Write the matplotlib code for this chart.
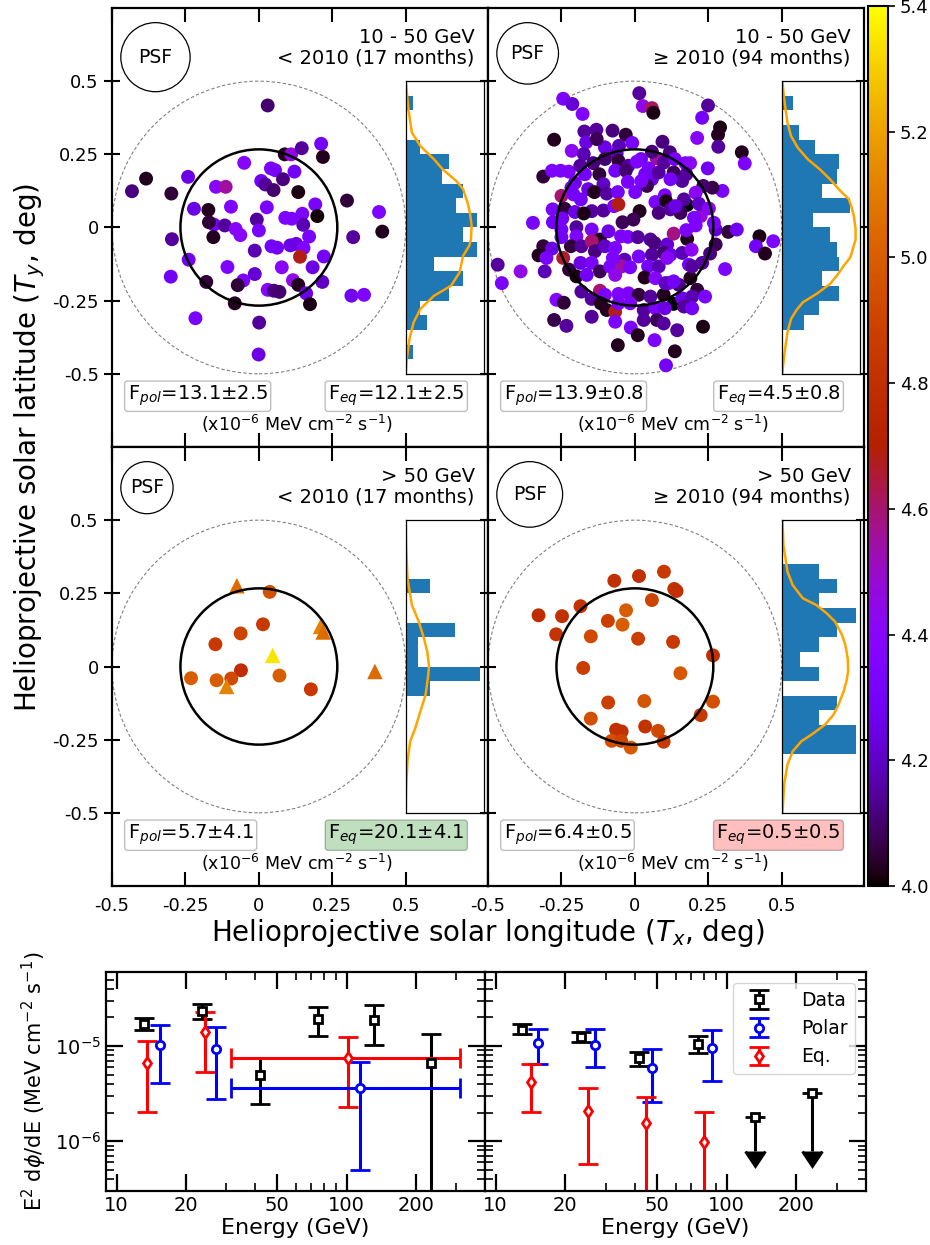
import numpy as np
import matplotlib.pyplot as plt
from matplotlib.patches import Circle
from matplotlib.colors import Normalize
from matplotlib.cm import ScalarMappable
from matplotlib.ticker import FixedLocator, NullFormatter, LogLocator

# ---------------- photon maps: Tx, Ty (deg) and log10(E/MeV) ----------------
tl_x = [0.030, -0.384, -0.432, -0.298, -0.241, -0.221, -0.172, -0.153, -0.170, -0.116,
        -0.155, -0.146, -0.113, -0.095, -0.050, 0.008, 0.022, 0.041, 0.055, 0.082,
        0.050, 0.088, 0.110, 0.121, 0.146, 0.212, 0.218, 0.134, 0.027, -0.007,
        0.000, -0.079, -0.063, 0.090, 0.112, 0.148, 0.192, 0.199, 0.151, 0.171,
        0.300, 0.409, 0.420, 0.321, -0.296, -0.239, -0.300, -0.179, -0.107, -0.014,
        0.043, 0.062, 0.107, 0.127, 0.152, 0.140, 0.078, 0.183, 0.221, -0.014,
        -0.053, -0.072, 0.116, 0.134, 0.030, 0.051, 0.070, 0.161, 0.216, 0.174,
        -0.082, 0.315, 0.358, -0.216, 0.001, -0.001]
tl_y = [0.417, 0.167, 0.124, 0.116, 0.173, 0.064, 0.060, 0.010, 0.018, 0.007,
        -0.033, 0.139, 0.139, 0.071, 0.221, 0.159, 0.147, 0.202, 0.196, 0.165,
        0.128, 0.250, 0.250, 0.191, 0.271, 0.286, 0.241, 0.121, 0.069, 0.027,
        -0.010, -0.005, -0.026, 0.033, 0.030, 0.047, 0.079, 0.039, 0.009, -0.031,
        0.092, 0.053, -0.014, -0.033, -0.040, -0.110, -0.168, -0.186, -0.135, -0.079,
        -0.064, -0.069, -0.061, -0.056, -0.070, -0.100, -0.136, -0.136, -0.099, -0.159,
        -0.181, -0.197, -0.180, -0.196, -0.213, -0.216, -0.220, -0.225, -0.186, -0.262,
        -0.259, -0.233, -0.230, -0.310, -0.325, -0.434]
tl_c = [4.10, 4.03, 4.12, 4.05, 4.25, 4.25, 4.03, 4.30, 4.05, 4.15,
        4.03, 4.40, 4.55, 4.35, 4.38, 4.30, 4.15, 4.32, 4.32, 4.12,
        4.10, 4.03, 4.45, 4.30, 4.15, 4.30, 4.03, 4.02, 4.33, 4.15,
        4.32, 4.40, 4.40, 4.35, 4.33, 4.33, 4.32, 4.01, 4.18, 4.32,
        4.05, 4.35, 4.03, 4.15, 4.15, 4.28, 4.28, 4.05, 4.35, 4.18,
        4.30, 4.30, 4.25, 4.25, 4.35, 4.68, 4.40, 4.25, 4.30, 4.22,
        4.33, 4.05, 4.45, 4.03, 4.40, 4.12, 4.10, 4.25, 4.20, 4.02,
        4.03, 4.28, 4.35, 4.32, 4.15, 4.25]

tr_x = [0.015, -0.244, -0.213, 0.027, 0.058, 0.063, 0.249, -0.178, 0.229, 0.290,
        0.283, 0.212, -0.275, -0.172, -0.131, -0.076, -0.031, -0.009, -0.102, -0.054,
        0.094, -0.166, 0.284, 0.364, 0.374, -0.215, -0.174, -0.062, 0.021, 0.074,
        0.119, 0.172, 0.188, 0.248, -0.312, -0.282, -0.253, -0.225, -0.186, -0.142,
        -0.102, -0.056, -0.022, 0.007, 0.047, 0.099, 0.132, 0.161, -0.121, -0.067,
        -0.031, -0.024, 0.058, 0.035, 0.081, 0.121, -0.204, -0.170, -0.107, -0.159,
        0.298, 0.264, -0.250, -0.209, -0.184, -0.138, -0.096, -0.058, 0.001, 0.041,
        0.102, 0.070, 0.106, 0.178, 0.167, 0.224, -0.280, -0.239, -0.204, -0.147,
        -0.107, -0.071, -0.056, 0.016, -0.005, -0.042, 0.081, 0.121, 0.155, 0.201,
        0.275, 0.318, 0.347, -0.347, -0.279, -0.250, -0.199, -0.147, -0.199, -0.119,
        -0.047, -0.024, 0.010, 0.053, 0.067, 0.110, 0.132, 0.178, 0.175, 0.207,
        0.275, 0.424, 0.471, 0.412, 0.443, -0.312, -0.282, -0.218, -0.182, -0.147,
        -0.136, -0.102, -0.067, -0.035, 0.013, 0.058, 0.098, 0.121, 0.161, 0.193,
        0.256, -0.244, -0.328, -0.301, -0.467, -0.453, -0.389, -0.307, -0.224, -0.185,
        -0.147, -0.119, -0.084, -0.045, -0.016, 0.045, 0.081, 0.110, 0.184, 0.229,
        0.307, -0.199, -0.164, -0.067, 0.033, 0.070, 0.115, 0.150, 0.189, 0.212,
        -0.182, -0.119, -0.102, -0.056, -0.022, 0.013, 0.053, 0.098, 0.132, 0.161,
        0.195, 0.239, -0.267, -0.242, -0.147, -0.116, -0.096, -0.067, -0.056, -0.016,
        0.030, 0.070, 0.102, 0.167, 0.195, -0.275, -0.233, -0.147, -0.067, -0.014,
        0.010, 0.075, 0.098, 0.144, 0.232, -0.058, 0.067, 0.136, 0.106, -0.130,
        0.058, 0.136, 0.175, 0.022, 0.233, 0.207, 0.218, 0.138, 0.252, 0.269,
        -0.174, -0.247, -0.250, -0.075, 0.030, -0.216, -0.090, 0.195, 0.104, 0.132]
tr_y = [0.459, 0.440, 0.422, 0.415, 0.408, 0.392, 0.417, 0.388, 0.375, 0.342,
        0.317, 0.306, 0.300, 0.328, 0.334, 0.331, 0.317, 0.289, 0.274, 0.279,
        0.293, 0.291, 0.276, 0.257, 0.219, 0.262, 0.251, 0.253, 0.234, 0.236,
        0.257, 0.220, 0.220, 0.202, 0.174, 0.194, 0.194, 0.191, 0.211, 0.220,
        0.234, 0.228, 0.211, 0.225, 0.202, 0.222, 0.188, 0.159, 0.182, 0.194,
        0.194, 0.156, 0.165, 0.182, 0.188, 0.165, 0.153, 0.182, 0.148, 0.131,
        0.125, 0.136, 0.108, 0.113, 0.096, 0.121, 0.116, 0.121, 0.121, 0.142,
        0.110, 0.087, 0.090, 0.077, 0.096, 0.039, 0.062, 0.064, 0.053, 0.056,
        0.058, 0.073, 0.079, 0.056, 0.027, 0.018, 0.050, 0.062, 0.050, 0.033,
        -0.007, -0.015, -0.007, 0.016, 0.018, -0.007, 0.001, -0.007, -0.030, -0.041,
        -0.030, -0.032, -0.033, -0.041, -0.053, -0.058, -0.021, -0.039, -0.009, 0.007,
        -0.058, -0.030, -0.047, -0.064, -0.089, -0.064, -0.072, -0.064, -0.064, -0.047,
        -0.081, -0.064, -0.070, -0.110, -0.099, -0.093, -0.087, -0.093, -0.087, -0.076,
        -0.089, -0.104, -0.095, -0.104, -0.127, -0.190, -0.150, -0.150, -0.144, -0.121,
        -0.121, -0.150, -0.133, -0.133, -0.136, -0.133, -0.133, -0.104, -0.127, -0.121,
        -0.142, -0.167, -0.162, -0.162, -0.171, -0.173, -0.190, -0.196, -0.173, -0.213,
        -0.219, -0.216, -0.230, -0.227, -0.225, -0.230, -0.236, -0.230, -0.261, -0.242,
        -0.236, -0.236, -0.247, -0.257, -0.244, -0.259, -0.282, -0.288, -0.259, -0.259,
        -0.282, -0.276, -0.276, -0.270, -0.276, -0.316, -0.336, -0.305, -0.322, -0.342,
        -0.368, -0.316, -0.328, -0.351, -0.339, -0.402, -0.385, -0.423, -0.471, 0.302,
        0.259, 0.234, 0.182, 0.159, 0.142, 0.119, 0.081, 0.073, 0.065, 0.016,
        0.048, 0.031, -0.033, -0.104, -0.316, 0.136, -0.013, -0.133, -0.190, -0.184]
tr_c = [4.15, 4.33, 4.22, 4.45, 4.62, 4.02, 4.15, 4.35, 4.30, 4.02,
        4.03, 4.40, 4.03, 4.15, 4.15, 4.12, 4.05, 4.32, 4.25, 4.18,
        4.12, 4.25, 4.15, 4.03, 4.33, 4.42, 4.18, 4.20, 4.30, 4.55,
        4.12, 4.35, 4.40, 4.28, 4.05, 4.33, 4.33, 4.33, 4.15, 4.12,
        4.10, 4.05, 4.15, 4.35, 4.32, 4.15, 4.08, 4.15, 4.05, 4.30,
        4.10, 4.32, 4.25, 4.30, 4.15, 4.30, 4.25, 4.30, 4.20, 4.25,
        4.33, 4.07, 4.60, 4.32, 4.30, 4.03, 4.15, 4.30, 4.32, 4.08,
        4.33, 4.33, 4.02, 4.00, 4.15, 4.48, 4.32, 4.05, 4.25, 4.15,
        4.15, 4.35, 4.68, 4.03, 4.08, 4.08, 4.12, 4.15, 4.08, 4.33,
        4.22, 4.05, 4.28, 4.32, 4.30, 4.30, 4.15, 4.32, 4.35, 4.03,
        4.32, 4.33, 4.15, 4.15, 4.12, 4.22, 4.58, 4.03, 4.33, 4.35,
        4.08, 4.02, 4.33, 4.30, 4.03, 4.05, 4.25, 4.05, 4.15, 4.60,
        4.12, 4.20, 4.33, 4.18, 4.32, 4.15, 4.10, 4.25, 4.18, 4.42,
        4.12, 4.66, 4.03, 4.32, 4.15, 4.32, 4.45, 4.18, 4.05, 4.25,
        4.32, 4.08, 4.33, 4.55, 4.32, 4.30, 4.18, 4.40, 4.30, 4.15,
        4.33, 4.02, 4.30, 4.45, 4.03, 4.38, 4.32, 4.12, 4.03, 4.05,
        4.15, 4.60, 4.33, 4.35, 4.33, 4.05, 4.15, 4.03, 4.00, 4.25,
        4.18, 4.32, 4.38, 4.05, 4.15, 4.03, 4.03, 4.68, 4.32, 4.33,
        4.15, 4.33, 4.25, 4.15, 4.30, 4.07, 4.15, 4.15, 4.33, 4.32,
        4.03, 4.08, 4.15, 4.15, 4.02, 4.03, 4.33, 4.03, 4.30, 4.08,
        4.12, 4.30, 4.15, 4.33, 4.10, 4.42, 4.20, 4.25, 4.40, 4.33,
        4.02, 4.30, 4.30, 4.35, 4.15, 4.30, 4.25, 4.15, 4.20, 4.30]

bl_x = [0.037, 0.014, -0.062, -0.148, -0.061, -0.094, -0.144, -0.231, 0.070, 0.177]
bl_y = [0.255, 0.144, 0.113, 0.076, -0.013, -0.041, -0.047, -0.040, -0.031, -0.078]
bl_c = [4.95, 4.85, 4.90, 4.85, 4.78, 4.92, 5.00, 5.00, 5.00, 4.85]
bl_tri_x = [-0.075, 0.210, 0.219, 0.047, -0.110, 0.395]
bl_tri_y = [0.276, 0.137, 0.118, 0.038, -0.068, -0.017]
bl_tri_c = [5.05, 5.12, 5.05, 5.35, 5.12, 5.05]

br_x = [-0.328, -0.248, -0.268, -0.185, -0.070, 0.014, 0.099, 0.134, 0.142, 0.058,
        -0.030, -0.092, -0.042, -0.150, 0.011, 0.130, 0.266, -0.176, 0.155, -0.091,
        0.032, 0.266, -0.150, 0.224, 0.035, -0.064, -0.045, 0.079, -0.079, -0.047,
        -0.014, 0.098]
br_y = [0.175, 0.172, 0.110, 0.206, 0.293, 0.309, 0.324, 0.265, 0.258, 0.227,
        0.192, 0.156, 0.143, 0.103, 0.095, 0.084, 0.038, -0.005, -0.023, -0.123,
        -0.118, -0.120, -0.178, -0.166, -0.205, -0.216, -0.222, -0.220, -0.254, -0.254,
        -0.277, -0.257]
br_c = [4.78, 4.80, 4.82, 4.82, 4.80, 4.80, 4.85, 4.82, 4.80, 4.90,
        5.00, 4.88, 5.00, 4.92, 4.88, 4.85, 4.80, 4.88, 4.98, 4.88,
        4.97, 4.95, 4.95, 4.85, 4.82, 4.80, 4.80, 4.92, 4.95, 4.90,
        4.98, 4.85]

# Ty histograms, 0.05 deg bins listed from +0.5 (top) to -0.5 (bottom)
tl_counts = [0, 1, 0, 0, 2, 6, 5, 8, 7, 10, 8, 10, 4, 8, 6, 2, 3, 0, 1, 0]
tr_counts = [0, 5, 0, 8, 15, 26, 25, 18, 31, 14, 22, 25, 26, 18, 26, 17, 10, 0, 0, 0]
bl_counts = [0, 0, 0, 0, 2, 0, 0, 4, 1, 1, 6, 2, 0, 0, 0, 0, 0, 0, 0, 0]
br_counts = [0, 0, 0, 2, 3, 2, 4, 3, 2, 1, 2, 0, 3, 2, 4, 4, 0, 0, 0, 0]

# expected Ty profiles (orange curves), same units as the counts
tl_prof_y = [0.5, 0.403, 0.324, 0.278, 0.233, 0.199, 0.159, 0.131, 0.085, 0.051, 0.006,
             -0.040, -0.062, -0.097, -0.153, -0.199, -0.233, -0.278, -0.324, -0.381, -0.449, -0.5]
tl_prof_v = [0.0, 0.38, 0.86, 2.05, 3.95, 5.14, 7.05, 8.0, 8.62, 8.95, 9.19,
             9.1, 8.86, 8.0, 7.52, 6.33, 3.95, 2.05, 1.1, 0.52, 0.14, 0.0]
tr_prof_y = [0.5, 0.4375, 0.358, 0.3125, 0.273, 0.233, 0.199, 0.165, 0.125, 0.097, 0.074,
             0.040, -0.006, -0.040, -0.0625, -0.102, -0.131, -0.165, -0.193, -0.227, -0.256,
             -0.284, -0.3125, -0.358, -0.415, -0.472, -0.5]
tr_prof_v = [0.3, 1.1, 2.6, 4.2, 7.2, 11.8, 17.2, 21.8, 26.5, 30.3, 31.4,
             32.6, 33.4, 33.4, 32.6, 31.0, 28.0, 24.9, 21.8, 15.7, 9.5,
             6.5, 4.2, 2.6, 1.5, 0.6, 0.3]
bl_prof_y = [0.5, 0.415, 0.301, 0.210, 0.153, 0.097, 0.051, 0.001, -0.040, -0.097, -0.153,
             -0.210, -0.256, -0.324, -0.415, -0.5]
bl_prof_v = [0.0, 0.03, 0.14, 0.5, 1.06, 1.47, 1.75, 1.89, 1.8, 1.61, 1.19,
             0.78, 0.36, 0.14, 0.03, 0.0]
br_prof_y = [0.5, 0.415, 0.324, 0.278, 0.233, 0.210, 0.182, 0.153, 0.108, 0.074, 0.028,
             -0.017, -0.051, -0.085, -0.131, -0.165, -0.199, -0.233, -0.256, -0.290, -0.335,
             -0.403, -0.5]
br_prof_v = [0.04, 0.09, 0.31, 0.59, 1.14, 1.87, 2.42, 2.88, 3.25, 3.43, 3.56,
             3.58, 3.49, 3.34, 3.06, 2.79, 2.33, 1.6, 1.05, 0.59, 0.31,
             0.13, 0.04]
hist_xmax = [10.86, 35.2, 6.33, 4.2]

psf_radius = [0.118, 0.105, 0.089, 0.112]
energy_txt = ['10 - 50 GeV', '10 - 50 GeV', '> 50 GeV', '> 50 GeV']
period_txt = ['< 2010 (17 months)', '≥ 2010 (94 months)', '< 2010 (17 months)', '≥ 2010 (94 months)']
fpol_txt = ['13.1±2.5', '13.9±0.8', '5.7±4.1', '6.4±0.5']
feq_txt = ['12.1±2.5', '4.5±0.8', '20.1±4.1', '0.5±0.5']
feq_face = ['white', 'white', 'green', 'red']
sun_radius = 0.267

# ---------------- spectra ----------------
L_data_E = [13.2, 23.6, 42.0, 74.8, 132, 233]
L_data_F = [1.70e-5, 2.34e-5, 4.95e-6, 1.92e-5, 1.88e-5, 6.62e-6]
L_data_lo = [1.47e-5, 1.93e-5, 2.45e-6, 1.27e-5, 1.02e-5, 1e-8]
L_data_hi = [1.97e-5, 2.77e-5, 7.48e-6, 2.57e-5, 2.70e-5, 1.34e-5]
L_pol_E = [15.4, 27.1, 114]
L_pol_F = [1.02e-5, 9.3e-6, 3.61e-6]
L_pol_lo = [4.08e-6, 2.77e-6, 4.96e-7]
L_pol_hi = [1.66e-5, 1.58e-5, 6.78e-6]
L_eq_E = [13.6, 24.3, 101]
L_eq_F = [6.62e-6, 1.40e-5, 7.48e-6]
L_eq_lo = [2.02e-6, 5.32e-6, 2.28e-6]
L_eq_hi = [1.13e-5, 2.28e-5, 1.24e-5]
L_wide_bin = [31.5, 312]   # energy range of the last polar/eq. bin

R_data_E = [13.0, 23.4, 41.9, 74.8]
R_data_F = [1.47e-5, 1.24e-5, 7.48e-6, 1.05e-5]
R_data_lo = [1.34e-5, 1.10e-5, 6.16e-6, 8.4e-6]
R_data_hi = [1.70e-5, 1.40e-5, 8.65e-6, 1.27e-5]
R_ul_E = [132, 234]
R_ul_F = [1.79e-6, 3.2e-6]
R_ul_lo = [7.85e-7, 7.85e-7]
R_pol_E = [15.2, 26.9, 47.6, 86]
R_pol_F = [1.08e-5, 1.02e-5, 5.87e-6, 9.5e-6]
R_pol_lo = [6.46e-6, 6.0e-6, 2.57e-6, 4.28e-6]
R_pol_hi = [1.51e-5, 1.51e-5, 9.3e-6, 1.47e-5]
R_eq_E = [14.2, 25.1, 44.9, 79.4]
R_eq_F = [4.18e-6, 2.07e-6, 1.55e-6, 9.8e-7]
R_eq_lo = [2.02e-6, 5.73e-7, 1e-8, 1e-8]
R_eq_hi = [6.46e-6, 3.61e-6, 2.9e-6, 2.02e-6]

cmap = plt.get_cmap('gnuplot')
norm = Normalize(4.0, 5.4)
ticks = [-0.5, -0.25, 0, 0.25, 0.5]
ticklabels = ['-0.5', '-0.25', '0', '0.25', '0.5']

fig = plt.figure(figsize=(9.3, 12.45), dpi=100)

W, H = 930.0, 1245.0
panel_pos = [[112 / W, 1 - 447 / H, 376 / W, 439 / H],
             [488 / W, 1 - 447 / H, 376 / W, 439 / H],
             [112 / W, 1 - 886 / H, 376 / W, 439 / H],
             [488 / W, 1 - 886 / H, 376 / W, 439 / H]]

maps = [(tl_x, tl_y, tl_c), (tr_x, tr_y, tr_c), (bl_x, bl_y, bl_c), (br_x, br_y, br_c)]
counts = [tl_counts, tr_counts, bl_counts, br_counts]
profiles = [(tl_prof_y, tl_prof_v), (tr_prof_y, tr_prof_v), (bl_prof_y, bl_prof_v), (br_prof_y, br_prof_v)]
bin_centers = np.linspace(0.475, -0.475, 20)

for i in range(4):
    ax = fig.add_axes(panel_pos[i])
    ax.set_xlim(-0.5, 0.78)
    ax.set_ylim(-0.75, 0.75)
    xs, ys, cs = maps[i]
    ax.scatter(xs, ys, c=cs, cmap=cmap, norm=norm, s=100, edgecolors='none', zorder=2)
    if i == 2:
        ax.scatter(bl_tri_x, bl_tri_y, c=bl_tri_c, cmap=cmap, norm=norm, s=125,
                   marker='^', edgecolors='none', zorder=2)
    ax.add_patch(Circle((0, 0), 0.5, fill=False, ec='gray', lw=0.8, ls=(0, (3, 2)), zorder=1))
    ax.add_patch(Circle((0, 0), sun_radius, fill=False, ec='black', lw=1.8, zorder=3))
    r = psf_radius[i]
    cx, cy = -0.5 + r + 0.03, 0.75 - r - 0.05
    ax.add_patch(Circle((cx, cy), r, fill=False, ec='black', lw=0.9, zorder=3))
    ax.text(cx, cy, 'PSF', ha='center', va='center', fontsize=13.5)

    ax.text(0.735, 0.629, energy_txt[i], ha='right', va='baseline', fontsize=14)
    ax.text(0.735, 0.560, period_txt[i], ha='right', va='baseline', fontsize=14)
    ax.text(-0.447, -0.59, 'F$_{pol}$=' + fpol_txt[i], ha='left', va='baseline', fontsize=14,
            bbox=dict(boxstyle='round,pad=0.15', facecolor='white', alpha=0.25))
    ax.text(0.70, -0.59, 'F$_{eq}$=' + feq_txt[i], ha='right', va='baseline', fontsize=14,
            bbox=dict(boxstyle='round,pad=0.15', facecolor=feq_face[i], alpha=0.25))
    ax.text(0.13, -0.695, '(x10$^{-6}$ MeV cm$^{-2}$ s$^{-1}$)', ha='center', va='baseline', fontsize=12.5)

    ax.set_xticks(ticks)
    ax.set_yticks(ticks)
    ax.set_xticklabels(ticklabels if i >= 2 else [])
    ax.set_yticklabels(ticklabels if i % 2 == 0 else [])
    ax.tick_params(axis='x', direction='in', length=10, width=1.5, top=True, bottom=True, labelsize=13, pad=8)
    ax.tick_params(axis='y', direction='inout', length=12, width=1.5, left=True, right=True, labelsize=13)
    for sp in ax.spines.values():
        sp.set_linewidth(1.6)

    # Ty histogram inset
    ins = ax.inset_axes([0.5, -0.5, 0.265, 1.0], transform=ax.transData)
    ins.barh(bin_centers, counts[i], height=0.05, color='#1f77b4')
    py, pv = profiles[i]
    ins.plot(pv, py, color='orange', lw=1.8)
    ins.set_ylim(-0.5, 0.5)
    ins.set_xlim(0, hist_xmax[i])
    ins.set_xticks([])
    ins.set_yticks([])
    for sp in ins.spines.values():
        sp.set_linewidth(0.9)

fig.text(30 / W, 1 - 447 / H, 'Helioprojective solar latitude ($T_y$, deg)', rotation=90,
         ha='center', va='center', fontsize=20)
fig.text(488 / W, 1 - 933 / H, 'Helioprojective solar longitude ($T_x$, deg)',
         ha='center', va='center', fontsize=20)

cax = fig.add_axes([868 / W, 1 - 886 / H, 20 / W, 880 / H])
cb = fig.colorbar(ScalarMappable(norm=norm, cmap=cmap), cax=cax)
cb.set_ticks(np.arange(4.0, 5.41, 0.2))
cb.set_ticklabels(['%.1f' % t for t in np.arange(4.0, 5.41, 0.2)])
cb.outline.set_linewidth(1.5)
cax.tick_params(labelsize=13, length=5, width=1.2)

# ---------------- spectra ----------------
def ebar(ax, E, F, lo, hi, color, fmt, label=None, xerr=None):
    F = np.array(F)
    yerr = [F - np.array(lo), np.array(hi) - F]
    return ax.errorbar(E, F, yerr=yerr, xerr=xerr, fmt=fmt, color=color, mfc='white', mec=color,
                       ms=6, mew=2, elinewidth=2.2, capsize=7, capthick=2.2, label=label)

axL = fig.add_axes([106 / W, 54 / H, 379 / W, 219 / H])
axR = fig.add_axes([485 / W, 54 / H, 381 / W, 219 / H])

ebar(axL, L_data_E, L_data_F, L_data_lo, L_data_hi, 'black', 's')
ebar(axL, L_eq_E[:2], L_eq_F[:2], L_eq_lo[:2], L_eq_hi[:2], 'red', 'd')
ebar(axL, L_pol_E[:2], L_pol_F[:2], L_pol_lo[:2], L_pol_hi[:2], 'blue', 'o')
ebar(axL, L_eq_E[2:], L_eq_F[2:], L_eq_lo[2:], L_eq_hi[2:], 'red', 'd',
     xerr=[[L_eq_E[2] - L_wide_bin[0]], [L_wide_bin[1] - L_eq_E[2]]])
ebar(axL, L_pol_E[2:], L_pol_F[2:], L_pol_lo[2:], L_pol_hi[2:], 'blue', 'o',
     xerr=[[L_pol_E[2] - L_wide_bin[0]], [L_wide_bin[1] - L_pol_E[2]]])

h_data = ebar(axR, R_data_E, R_data_F, R_data_lo, R_data_hi, 'black', 's', label='Data')
axR.errorbar(R_ul_E, R_ul_F, yerr=[np.array(R_ul_F) - np.array(R_ul_lo), [0, 0]], uplims=True,
             fmt='s', color='black', mfc='white', mec='black', ms=6, mew=2,
             elinewidth=2.2, capsize=7, capthick=2.2)
h_pol = ebar(axR, R_pol_E, R_pol_F, R_pol_lo, R_pol_hi, 'blue', 'o', label='Polar')
h_eq = ebar(axR, R_eq_E, R_eq_F, R_eq_lo, R_eq_hi, 'red', 'd', label='Eq.')
axR.legend(handles=[h_data, h_pol, h_eq], loc='upper right', fontsize=13.5,
           borderaxespad=0.6, handletextpad=1.2)

for ax in (axL, axR):
    ax.set_xscale('log')
    ax.set_yscale('log')
    ax.set_xlim(9, 400)
    ax.set_ylim(3e-7, 6e-5)
    ax.xaxis.set_major_locator(FixedLocator([10, 20, 50, 100, 200]))
    ax.xaxis.set_minor_locator(FixedLocator([30, 40, 60, 70, 80, 90, 300]))
    ax.xaxis.set_minor_formatter(NullFormatter())
    ax.set_xticklabels(['10', '20', '50', '100', '200'])
    ax.yaxis.set_major_locator(LogLocator(base=10))
    ax.yaxis.set_minor_locator(LogLocator(base=10, subs=np.arange(2, 10)))
    ax.yaxis.set_minor_formatter(NullFormatter())
    ax.tick_params(which='major', direction='in', length=12, width=1.6, top=True, right=True, labelsize=14)
    ax.tick_params(which='minor', direction='in', length=6, width=1.2, top=True, right=True)
    ax.set_xlabel('Energy (GeV)', fontsize=16, labelpad=2)
    for sp in ax.spines.values():
        sp.set_linewidth(1.6)
axR.set_yticklabels([])
axR.yaxis.set_minor_formatter(NullFormatter())
axL.set_ylabel('E$^2$ d$\\phi$/dE (MeV cm$^{-2}$ s$^{-1}$)', fontsize=15)

fig.savefig('out.png', dpi=100)
